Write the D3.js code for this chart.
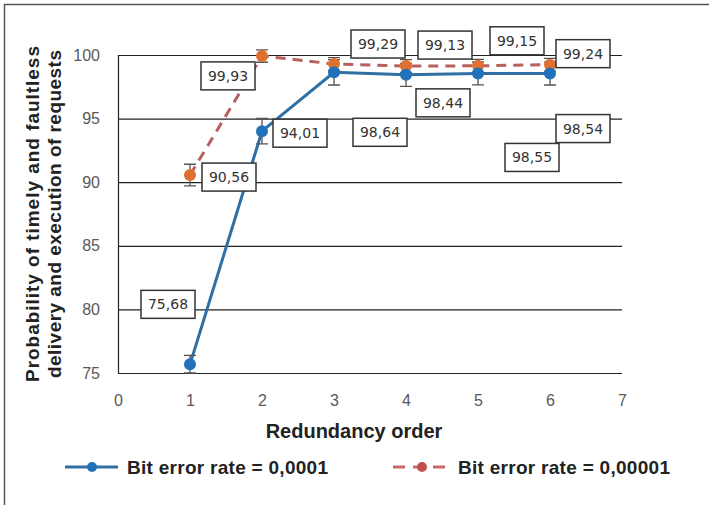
<!DOCTYPE html>
<html>
<head>
<meta charset="utf-8">
<script src="https://cdn.jsdelivr.net/npm/d3@7"></script>
<style>
  body { margin: 0; background: #fff; }
  svg { display: block; }
</style>
</head>
<body>
<div id="chart"></div>
<script>
// Data
const orders = [1, 2, 3, 4, 5, 6];
const berHigh = [75.68, 94.01, 98.64, 98.44, 98.55, 98.54];   // bit error rate = 0,0001
const berLow = [90.56, 99.93, 99.29, 99.13, 99.15, 99.24];    // bit error rate = 0,00001
const errHigh = [0.7, 1.0, 1.0, 0.9, 0.9, 0.9];
const errLow = [0.85, 0.5, 0.5, 0.5, 0.5, 0.5];
const yTicks = [75, 80, 85, 90, 95, 100];
const xTicks = [0, 1, 2, 3, 4, 5, 6, 7];
const seriesNames = ["Bit error rate = 0,0001", "Bit error rate = 0,00001"];

// label box offsets from the point (pixels), as placed in the original
const offHigh = [[-22, -60], [38, 2], [46, 60], [37, 28], [54, 84], [33, 55]];
const offLow = [[39, 2], [-34, 20], [44, -20], [39, -21], [39, -25], [33, -11]];

function drawChart(containerId) {
  const W = 709, H = 505;
  const left = 118, right = 622, top = 55, bottom = 373;

  d3.select(`#${containerId}`).html("");
  const svg = d3.select(`#${containerId}`)
    .append("svg")
      .attr("width", W)
      .attr("height", H);

  // outer frame (left + top only visible)
  svg.append("path")
    .attr("d", `M4.5,${H} V4.5 H${W}`)
    .attr("fill", "none")
    .attr("stroke", "#555")
    .attr("stroke-width", 1.5);

  const x = d3.scaleLinear().domain([0, 7]).range([left, right]);
  const y = d3.scaleLinear().domain([75, 100]).range([bottom, top]);

  // gridlines
  svg.append("g")
    .selectAll("line")
    .data(yTicks)
    .join("line")
      .attr("x1", x(0))
      .attr("x2", x(7))
      .attr("y1", d => y(d) + 0.5)
      .attr("y2", d => y(d) + 0.5)
      .attr("stroke", "#222")
      .attr("stroke-width", 1.2);

  // left axis line
  svg.append("line")
    .attr("x1", x(0) + 0.5).attr("x2", x(0) + 0.5)
    .attr("y1", y(100)).attr("y2", y(75) + 1)
    .attr("stroke", "#222")
    .attr("stroke-width", 1.2);

  // axes tick labels via d3 axes (no domain/ticks drawn)
  const yAxis = svg.append("g")
    .attr("transform", `translate(${x(0)},0)`)
    .call(d3.axisLeft(y).tickValues(yTicks).tickSize(0).tickPadding(18).tickFormat(d3.format("d")));
  yAxis.select(".domain").remove();
  yAxis.selectAll("text")
    .style("font-family", "Liberation Sans, Arial, sans-serif")
    .style("font-size", "16px")
    .style("fill", "#595959");

  const xAxis = svg.append("g")
    .attr("transform", `translate(0,${bottom})`)
    .call(d3.axisBottom(x).tickValues(xTicks).tickSize(0).tickPadding(22).tickFormat(d3.format("d")));
  xAxis.select(".domain").remove();
  xAxis.selectAll("text")
    .style("font-family", "Liberation Sans, Arial, sans-serif")
    .style("font-size", "16px")
    .style("fill", "#595959");

  // axis titles
  svg.append("text")
    .attr("x", 354)
    .attr("y", 438)
    .attr("text-anchor", "middle")
    .style("font-family", "Liberation Sans, Arial, sans-serif")
    .style("font-size", "20px")
    .style("font-weight", "bold")
    .style("fill", "#222")
    .text("Redundancy order");

  const yTitle = svg.append("text")
    .attr("transform", "translate(0,214) rotate(-90)")
    .attr("text-anchor", "middle")
    .style("font-family", "Liberation Sans, Arial, sans-serif")
    .style("font-size", "19px")
    .style("font-weight", "bold")
    .style("fill", "#222");
  yTitle.append("tspan").attr("x", 0).attr("y", 39)
    .attr("textLength", 336).attr("lengthAdjust", "spacing")
    .text("Probability of timely and faultless");
  yTitle.append("tspan").attr("x", 0).attr("y", 61)
    .attr("textLength", 328).attr("lengthAdjust", "spacing")
    .text("delivery and execution of requests");

  const highData = orders.map((o, i) => ({ o, v: berHigh[i], e: errHigh[i], off: offHigh[i] }));
  const lowData = orders.map((o, i) => ({ o, v: berLow[i], e: errLow[i], off: offLow[i] }));

  const line = d3.line().x(d => x(d.o)).y(d => y(d.v));

  // error bars
  function errorBars(data) {
    const g = svg.append("g")
      .attr("stroke", "#555")
      .attr("stroke-width", 1.3);
    g.selectAll(".eb")
      .data(data)
      .join("path")
        .attr("fill", "none")
        .attr("d", d => {
          const cx = x(d.o), y1 = y(Math.min(d.v + d.e, 100.4)), y2 = y(Math.max(d.v - d.e, 75));
          return `M${cx - 6},${y1} H${cx + 6} M${cx},${y1} V${y2} M${cx - 6},${y2} H${cx + 6}`;
        });
  }

  // series: dashed (low BER)
  svg.append("path")
    .datum(lowData)
    .attr("fill", "none")
    .attr("stroke", "#b8605e")
    .attr("stroke-width", 3)
    .attr("stroke-dasharray", "10,7")
    .attr("d", line);

  // series: solid (high BER)
  svg.append("path")
    .datum(highData)
    .attr("fill", "none")
    .attr("stroke", "#2f6fa3")
    .attr("stroke-width", 3)
    .attr("d", line);

  errorBars(lowData);
  errorBars(highData);

  svg.append("g")
    .selectAll("circle")
    .data(lowData)
    .join("circle")
      .attr("cx", d => x(d.o))
      .attr("cy", d => y(d.v))
      .attr("r", 6)
      .attr("fill", "#e0702f");

  svg.append("g")
    .selectAll("circle")
    .data(highData)
    .join("circle")
      .attr("cx", d => x(d.o))
      .attr("cy", d => y(d.v))
      .attr("r", 6)
      .attr("fill", "#2272bb");

  // data labels in boxes
  const fmt = v => d3.format(".2f")(v).replace(".", ",");
  const labels = svg.append("g")
    .selectAll("g")
    .data(highData.concat(lowData))
    .join("g")
      .attr("transform", d => `translate(${x(d.o) + d.off[0]},${y(d.v) + d.off[1]})`);
  labels.append("rect")
    .attr("x", -27).attr("y", -14)
    .attr("width", 54).attr("height", 28)
    .attr("fill", "#fff")
    .attr("stroke", "#333")
    .attr("stroke-width", 1.5);
  labels.append("text")
    .attr("text-anchor", "middle")
    .attr("dy", "0.36em")
    .style("font-family", "DejaVu Sans, Verdana, sans-serif")
    .style("font-size", "14px")
    .style("fill", "#333")
    .text(d => fmt(d.v));

  // legend
  const legend = svg.append("g").attr("transform", "translate(0,467)");
  legend.append("line")
    .attr("x1", 65).attr("x2", 118).attr("y1", 0).attr("y2", 0)
    .attr("stroke", "#2f6fa3").attr("stroke-width", 3);
  legend.append("circle").attr("cx", 92).attr("cy", 0).attr("r", 5).attr("fill", "#2272bb");
  legend.append("text")
    .attr("x", 127).attr("y", 7)
    .attr("textLength", 201).attr("lengthAdjust", "spacing")
    .style("font-family", "Liberation Sans, Arial, sans-serif")
    .style("font-size", "19px")
    .style("font-weight", "bold")
    .style("fill", "#222")
    .text(seriesNames[0]);

  legend.append("line")
    .attr("x1", 393).attr("x2", 450).attr("y1", 0).attr("y2", 0)
    .attr("stroke", "#c46a68").attr("stroke-width", 3)
    .attr("stroke-dasharray", "12,8");
  legend.append("circle").attr("cx", 422).attr("cy", 0).attr("r", 5).attr("fill", "#c0504d");
  legend.append("text")
    .attr("x", 458).attr("y", 7)
    .attr("textLength", 212).attr("lengthAdjust", "spacing")
    .style("font-family", "Liberation Sans, Arial, sans-serif")
    .style("font-size", "19px")
    .style("font-weight", "bold")
    .style("fill", "#222")
    .text(seriesNames[1]);
}

document.addEventListener("DOMContentLoaded", function () {
  drawChart("chart");
});
</script>
</body>
</html>
